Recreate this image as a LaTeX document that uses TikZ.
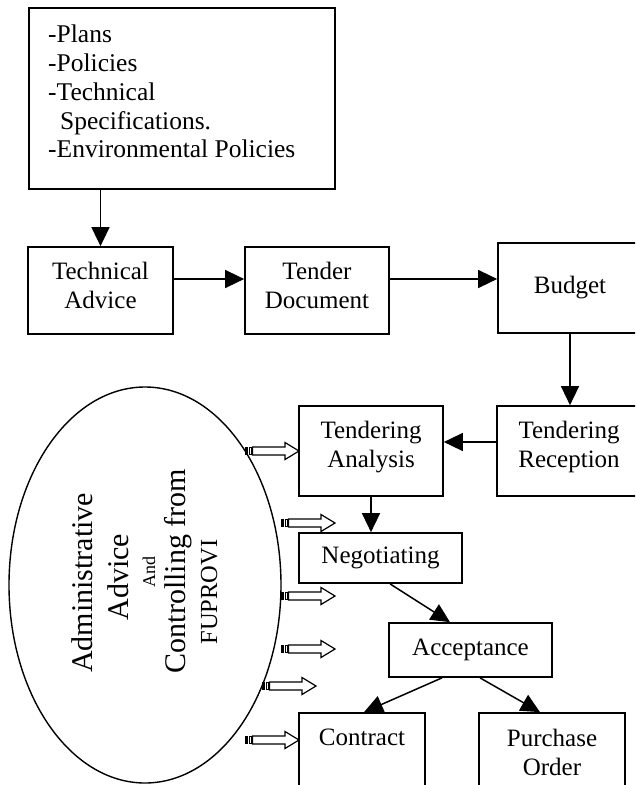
\documentclass[tikz,border=0pt]{standalone}
\usepackage{fontspec}
\setmainfont{Liberation Serif}
\usetikzlibrary{arrows.meta,shapes.geometric,calc}
\tikzset{
  box/.style={draw, line width=1.7pt, inner sep=0pt, align=center, font=\fontsize{25}{29}\selectfont},
  txt/.style={inner sep=0pt, align=center, font=\fontsize{25}{29}\selectfont},
  conn/.style={line width=1.5pt, -{Triangle[length=19pt,width=18pt]}},
  ell/.style={draw, ellipse, line width=1.4pt, inner sep=0pt},
  etext/.style={inner sep=0pt, rotate=90, anchor=base},
  big/.style={font=\fontsize{30}{34}\selectfont},
  sarrow/.pic={
    \fill (0,-4.2) rectangle (3.2,4.2);
    \draw[line width=0.9pt] (4.4,-3.8) rectangle (6.4,3.8);
    \draw[line width=1.2pt, fill=white] (7.5,-4) -- (40,-4) -- (40,-8.5) -- (54,0) -- (40,8.5) -- (40,4) -- (7.5,4) -- cycle;
  }
}
\begin{document}
\begin{tikzpicture}[x=1pt,y=-1pt]
\useasboundingbox (0,0) rectangle (635,785);
\clip (0,0) rectangle (635,785);

% top box
\node[box, minimum width=306, minimum height=181] (top) at (182,98.5) {};
\node[anchor=north west, inner sep=0pt, align=left, font=\fontsize{25.5}{28.75}\selectfont] (toptext) at (48,25)
  {-Plans\\-Policies\\-Technical\\\hspace*{12pt}Specifications.\\-Environmental Policies};

% first row
\node[box, minimum width=145, minimum height=87] (ta) at (100.5,290.5) {};
\node[txt] (taT) at (100.5,285.5) {Technical\\Advice};
\node[box, minimum width=144, minimum height=87] (td) at (317,290.5) {};
\node[txt] (tdT) at (317,285.5) {Tender\\Document};
\node[box, minimum width=144, minimum height=90] (bud) at (570,288) {Budget};

% second row
\node[box, minimum width=144, minimum height=90] (tr) at (569,451) {};
\node[txt] (trT) at (569,447) {Tendering\\Reception};
\node[box, minimum width=144, minimum height=90] (tan) at (371,451) {};
\node[txt] (tanT) at (371,447) {Tendering\\Analysis};
\node[box, minimum width=163, minimum height=50] (neg) at (380.5,558) {Negotiating};
\node[box, minimum width=163, minimum height=54] (acc) at (470.5,650) {Acceptance};
\node[box, minimum width=126, minimum height=82] (con) at (362,754) {};
\node[txt] (conT) at (362,737) {Contract};
\node[box, minimum width=146, minimum height=82] (po) at (552,754) {};
\node[txt] (poT) at (552,752) {Purchase\\Order};

% ellipse
\node[ell, minimum width=272, minimum height=396] (el) at (145,585) {};
\node[etext, big] (l1) at (92,583) {Administrative};
\node[etext, big] (l2) at (128,577) {Advice};
\node[etext, font=\fontsize{18}{20}\selectfont] (l3) at (155,572) {And};
\node[etext, big] (l4) at (185,571) {Controlling from};
\node[etext, font=\fontsize{24.5}{28}\selectfont] (l5) at (217,592) {FUPROVI};

% connectors
\draw[conn] (top.south -| ta.north) -- (ta.north);
\draw[conn] ([yshift=11.5pt]ta.east) -- ([yshift=11.5pt]td.west);
\draw[conn] ([yshift=11.5pt]td.east) -- ([yshift=9pt]bud.west);
\draw[conn] (bud.south) -- (bud.south |- tr.north);
\draw[conn] ([yshift=9pt]tr.west) -- ([yshift=9pt]tan.east);
\draw[conn] (tan.south) -- (tan.south |- neg.north);
\draw[conn] ([xshift=9.5pt]neg.south) -- ([xshift=-20.5pt]acc.north);
\draw[conn] ([xshift=-28.5pt]acc.south) -- ([xshift=2pt]con.north);
\draw[conn] ([xshift=9.5pt]acc.south) -- ([xshift=-12pt]po.north);

% striped hollow arrows
\pic (h1) at (245,451) {sarrow};
\pic (h2) at (281,523) {sarrow};
\pic (h3) at (281,596) {sarrow};
\pic (h4) at (281,649) {sarrow};
\pic (h5) at (262,686) {sarrow};
\pic (h6) at (245,740) {sarrow};
\end{tikzpicture}
\end{document}
